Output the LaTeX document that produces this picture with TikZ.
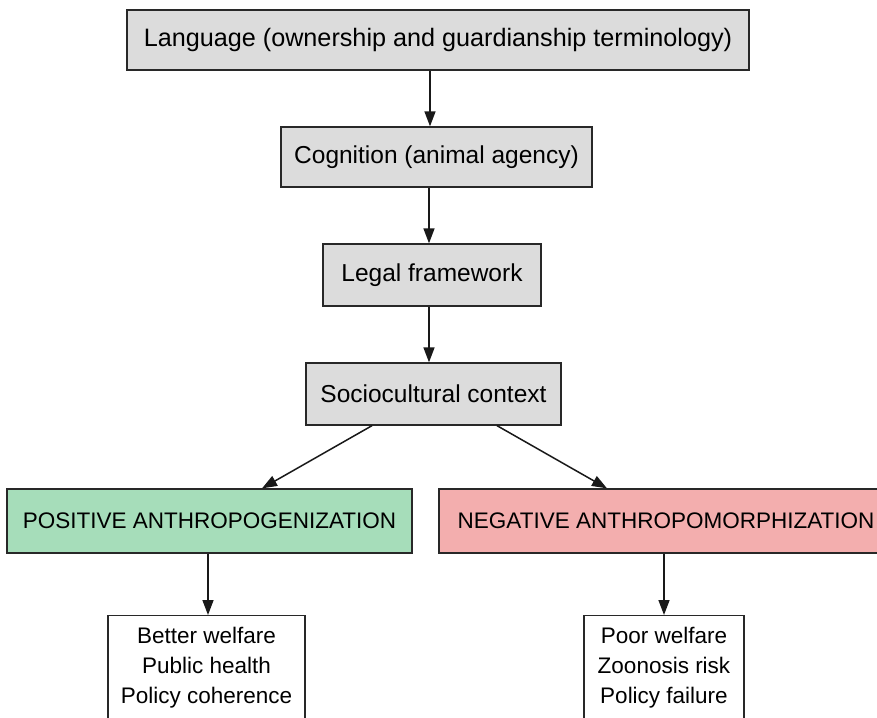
\documentclass[tikz,border=0pt]{standalone}
\usepackage{fontspec}
\setmainfont{Liberation Sans}
\usetikzlibrary{arrows.meta,calc}
\definecolor{boxgrey}{RGB}{220,220,220}
\definecolor{posgreen}{RGB}{166,221,186}
\definecolor{negred}{RGB}{243,174,174}
\definecolor{edgecol}{RGB}{40,40,40}
\begin{document}
\begin{tikzpicture}[x=1pt,y=-1pt,
  box/.style={draw=edgecol,line width=1.3pt,font=\fontsize{22.5}{30}\selectfont,inner sep=0pt,align=center},
  greybox/.style={box,fill=boxgrey,font=\fontsize{24.5}{30}\selectfont},
  arr/.style={draw=black!90,line width=1.5pt,-{Triangle[length=15pt,width=11pt]}}]
\clip (0,0) rectangle (877,717);
\fill[white] (0,0) rectangle (877,717);
\node[greybox,font=\fontsize{25.2}{30}\selectfont,minimum width=622,minimum height=60] (lang) at (438,40) {Language (ownership and guardianship terminology)};
\node[greybox,minimum width=311,minimum height=60] (cog) at (436.5,157) {Cognition (animal agency)};
\node[greybox,minimum width=218,minimum height=62] (leg) at (432,275) {Legal framework};
\node[greybox,minimum width=255,minimum height=62] (soc) at (433.5,394) {Sociocultural context};
\node[box,fill=posgreen,minimum width=405,minimum height=64] (pos) at (209.5,521) {POSITIVE ANTHROPOGENIZATION};
\node[box,fill=negred,minimum width=454,minimum height=64] (neg) at (666,521) {NEGATIVE ANTHROPOMORPHIZATION};
\node[box,fill=white,minimum width=197,anchor=north,inner ysep=12pt] (better) at (206.5,615) {Better welfare\\Public health\\Policy coherence\\\mbox{}};
\node[box,fill=white,minimum width=160,anchor=north,inner ysep=12pt] (poor) at (664,615) {Poor welfare\\Zoonosis risk\\Policy failure\\\mbox{}};
\draw[arr] ([xshift=-8pt]lang.south) -- ([xshift=-6.5pt]cog.north);
\draw[arr] ([xshift=-7.5pt]cog.south) -- ([xshift=-3pt]leg.north);
\draw[arr] ([xshift=-3pt]leg.south) -- ([xshift=-4.5pt]soc.north);
\draw[arr] ([xshift=-61.5pt]soc.south) -- ([xshift=52.5pt]pos.north);
\draw[arr] ([xshift=63.5pt]soc.south) -- ([xshift=-59pt]neg.north);
\draw[arr] ([xshift=-1.5pt]pos.south) -- ([xshift=1.5pt]better.north);
\draw[arr] (neg.south -| poor.north) -- (poor.north);
\end{tikzpicture}
\end{document}
